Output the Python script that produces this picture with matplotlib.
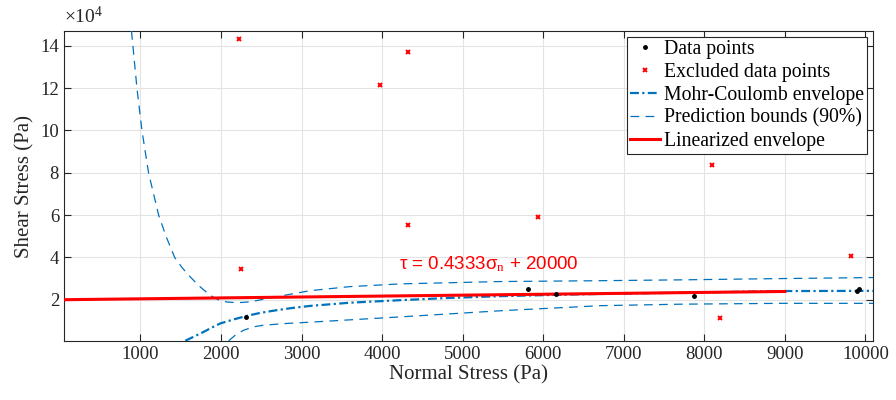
import matplotlib
matplotlib.use("Agg")
import matplotlib.pyplot as plt
from matplotlib.ticker import FuncFormatter

plt.rcParams['font.family'] = ['Liberation Serif', 'DejaVu Serif']
plt.rcParams['mathtext.fontset'] = 'custom'
plt.rcParams['mathtext.rm'] = 'Liberation Serif'
plt.rcParams['mathtext.it'] = 'Liberation Serif:italic'

BLUE = '#0072BD'
RED = '#FF0000'

# data points used for the fit
data_x = [2314, 5816, 6164, 7867, 9897, 9925]
data_y = [11900, 25000, 22600, 21700, 24100, 25200]

# excluded points
excl_x = [2227, 2252, 3968, 4316, 4316, 5932, 8095, 8190, 9822]
excl_y = [143200, 34500, 121500, 137100, 55300, 59100, 83600, 11600, 40600]

# Mohr-Coulomb envelope
mc_x = [1556, 1681, 1784, 1888, 1991, 2157, 2323, 2489, 2696, 2903, 3110, 3600, 4229, 4800,
        5472, 6500, 7500, 8500, 9010, 10112]
mc_y = [600, 2900, 4800, 6900, 8800, 10700, 12400, 13800, 15100, 16200, 17100, 18600, 19800,
        20800, 21700, 22600, 23200, 23800, 24100, 24200]

# prediction bounds (90%)
up_x = [888, 906, 956, 1018, 1100, 1225, 1320, 1424, 1520, 1618, 1720, 1826, 1910, 1991, 2080,
        2157, 2250, 2364, 2613, 3110, 3600, 4229, 5472, 6715, 7709, 8952, 10112]
up_y = [147000, 140000, 120000, 100000, 80000, 60000, 49700, 40000, 35000, 30800, 26800, 23300,
        21000, 19600, 18900, 18700, 18700, 19000, 20900, 24300, 26200, 27500, 28600, 29000, 29400,
        30000, 30500]
lo_x = [2095, 2178, 2281, 2406, 2530, 2820, 3110, 4229, 5472, 6715, 7709, 8952, 10112]
lo_y = [600, 3300, 5600, 7200, 8000, 8800, 9400, 11900, 14800, 17200, 17900, 18300, 18300]

# linearized envelope: tau = 0.4333 sigma + 20000
lin_x = [0, 9000]
lin_y = [20000, 23900]

fig = plt.figure(figsize=(8.96, 4.0), dpi=100)
ax = fig.add_axes([0.0714, 0.1475, 0.9025, 0.775])

ax.plot(data_x, data_y, '.', color='black', markersize=5, label='Data points', zorder=5)
ax.plot(excl_x, excl_y, 'x', color=RED, markersize=3.5, mew=1.4, label='Excluded data points', zorder=5)
ax.plot(mc_x, mc_y, color=BLUE, lw=1.6, dashes=(4, 1.5, 1, 1.5), label='Mohr-Coulomb envelope', zorder=3)
ax.plot(up_x, up_y, color=BLUE, lw=0.9, dashes=(7, 5), label='Prediction bounds (90%)', zorder=3)
ax.plot(lo_x, lo_y, color=BLUE, lw=0.9, dashes=(7, 5), zorder=3)
ax.plot(lin_x, lin_y, color=RED, lw=2.2, label='Linearized envelope', zorder=4)

ax.text(4204, 34500, r'τ = 0.4333σ$_\mathrm{n}$ + 20000', color=RED, fontsize=13.5,
        family=['Liberation Sans', 'DejaVu Sans'], va='baseline', ha='left')

ax.set_xlim(50, 10090)
ax.set_ylim(500, 147000)
ax.set_xticks(range(1000, 10001, 1000))
ax.set_yticks(range(20000, 140001, 20000))
ax.yaxis.set_major_formatter(FuncFormatter(lambda v, p: f'{v / 1e4:g}'))

ax.grid(True, color='#e3e3e3', lw=0.8)
ax.set_axisbelow(True)
ax.tick_params(direction='in', top=True, right=True, length=5, labelsize=13.5,
               color='#262626', labelcolor='#262626')
for s in ax.spines.values():
    s.set_color('#262626')
    s.set_linewidth(0.8)

ax.set_xlabel('Normal Stress (Pa)', fontsize=15, color='#262626', labelpad=2)
ax.set_ylabel('Shear Stress (Pa)', fontsize=15, color='#262626', labelpad=4)
ax.text(0.0, 1.012, r'$\times10^4$', transform=ax.transAxes, fontsize=14, color='#262626',
        ha='left', va='bottom')

leg = ax.legend(loc='upper right', fontsize=14.2, frameon=True, fancybox=False, framealpha=1,
                edgecolor='#262626', borderaxespad=0.3, handlelength=1.5, handletextpad=0.2,
                labelspacing=0.2, borderpad=0.15)
leg.get_frame().set_linewidth(0.8)

fig.savefig('out.png', dpi=100)
